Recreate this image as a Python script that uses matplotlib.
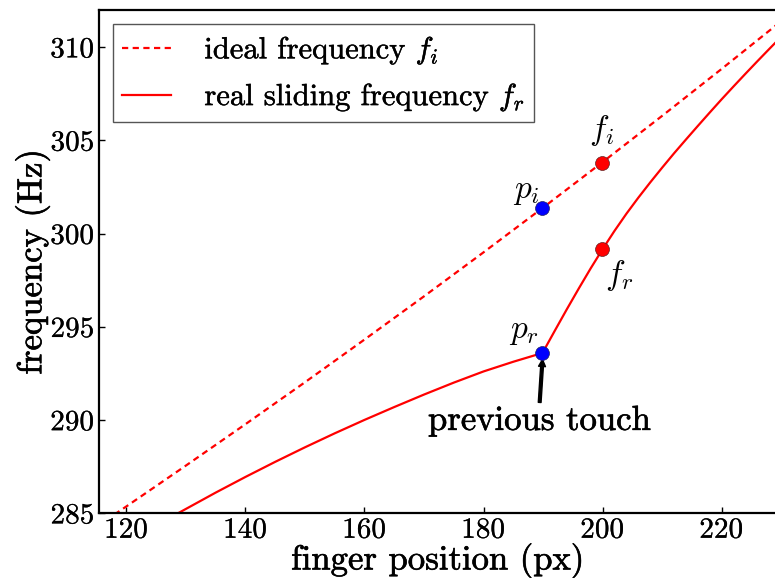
import numpy as np
import matplotlib
matplotlib.use("Agg")
import matplotlib.pyplot as plt
import matplotlib.patheffects as pe

plt.rcParams['mathtext.fontset'] = 'cm'
plt.rcParams['axes.formatter.use_mathtext'] = True

# ideal string frequency vs finger position
ideal_x = [115, 120, 130, 140, 150, 160, 170, 180, 190, 200, 210, 220, 230]
ideal_f = [284.29, 285.37, 287.56, 289.78, 292.03, 294.32, 296.64,
           299.00, 301.40, 303.84, 306.32, 308.84, 311.40]

# real sliding frequency (lags behind, then catches up after the touch)
real_x = [120.0, 128.66, 135, 140, 145, 150, 155, 160, 165, 170, 175, 180, 185,
          189.9, 192, 194, 196, 198, 200, 202, 204, 206, 208, 210, 212, 214,
          216, 218, 220, 222, 224, 226, 228, 230]
real_f = [283.44, 285.0, 286.11, 286.95, 287.76, 288.54, 289.29, 290.01, 290.70,
          291.37, 292.01, 292.61, 293.13, 293.6, 294.81, 295.95, 297.06, 298.14,
          299.17, 300.15, 301.07, 301.93, 302.75, 303.54, 304.31, 305.05, 305.78,
          306.50, 307.21, 307.90, 308.58, 309.25, 309.91, 310.56]

# previous touch and current position
p_x, p_i, p_r = 189.9, 301.38, 293.6
f_x, f_i, f_r = 199.9, 303.81, 299.16

# thicken the thin cmr10 strokes a little
heavy = [pe.withStroke(linewidth=0.45, foreground='black')]
light = [pe.withStroke(linewidth=0.3, foreground='black')]
tiny = [pe.withStroke(linewidth=0.15, foreground='black')]

fig = plt.figure(figsize=(7.75, 5.78), dpi=100)
ax = fig.add_axes([99 / 775, 1 - 513.3 / 578, 678 / 775, 503.3 / 578])

ax.plot(ideal_x, ideal_f, 'r', ls=(0, (2.8, 2.0)), lw=1.6, label=r'ideal frequency $f_i$')
ax.plot(real_x, real_f, 'r-', lw=1.6, label=r'real sliding frequency $f_r$')

ax.plot([p_x, p_x], [p_i, p_r], 'o', color='b', ms=10, mec='#202060', mew=0.5, zorder=5)
ax.plot([f_x, f_x], [f_i, f_r], 'o', color='r', ms=10, mec='#602020', mew=0.5, zorder=5)

mfs = 24
ax.text(p_x - 0.5, p_i + 0.05, r'$p_i$', fontsize=mfs, ha='right', va='bottom')
ax.text(f_x, f_i + 0.8, r'$f_i$', fontsize=mfs, ha='center', va='bottom')
ax.text(f_x + 0.5, f_r - 0.45, r'$f_r$', fontsize=mfs, ha='left', va='top')
ax.text(p_x - 0.5, p_r + 0.3, r'$p_r$', fontsize=mfs, ha='right', va='bottom')

ann = ax.annotate('previous touch', xy=(p_x, p_r - 0.35), xytext=(189.4, 289.95),
                  fontsize=25, family='cmr10', ha='center', va='center',
                  arrowprops=dict(facecolor='black', edgecolor='black', width=2.0,
                                  headwidth=5, headlength=5, shrink=0.0))
ann.set_path_effects(heavy)

ax.set_xlim(115.4, 229.3)
ax.set_ylim(285, 312)
ax.set_xticks([120, 140, 160, 180, 200, 220])
ax.set_yticks([285, 290, 295, 300, 305, 310])
for lab in ax.get_xticklabels() + ax.get_yticklabels():
    lab.set_family('cmr10')
    lab.set_fontsize(21)
    lab.set_path_effects(tiny)
ax.tick_params(direction='in', length=4, width=1, top=False, right=False, pad=3)

ax.set_xlabel('finger position (px)', family='cmr10', fontsize=25, labelpad=-1,
              path_effects=heavy)
ax.set_ylabel('frequency (Hz)', family='cmr10', fontsize=25, labelpad=0,
              path_effects=heavy)

for s in ax.spines.values():
    s.set_linewidth(1.6)
ax.spines['right'].set_visible(False)

leg = ax.legend(loc='upper left', prop={'family': 'cmr10', 'size': 22},
                fancybox=False, framealpha=1, edgecolor='#555555',
                handlelength=1.6, handletextpad=1.1, borderpad=0.3,
                labelspacing=0.45, borderaxespad=0,
                bbox_to_anchor=(0.0202, 0.9716))
leg.get_frame().set_linewidth(1.0)
for t in leg.get_texts():
    t.set_path_effects(light)

fig.savefig('out.png', dpi=100)
